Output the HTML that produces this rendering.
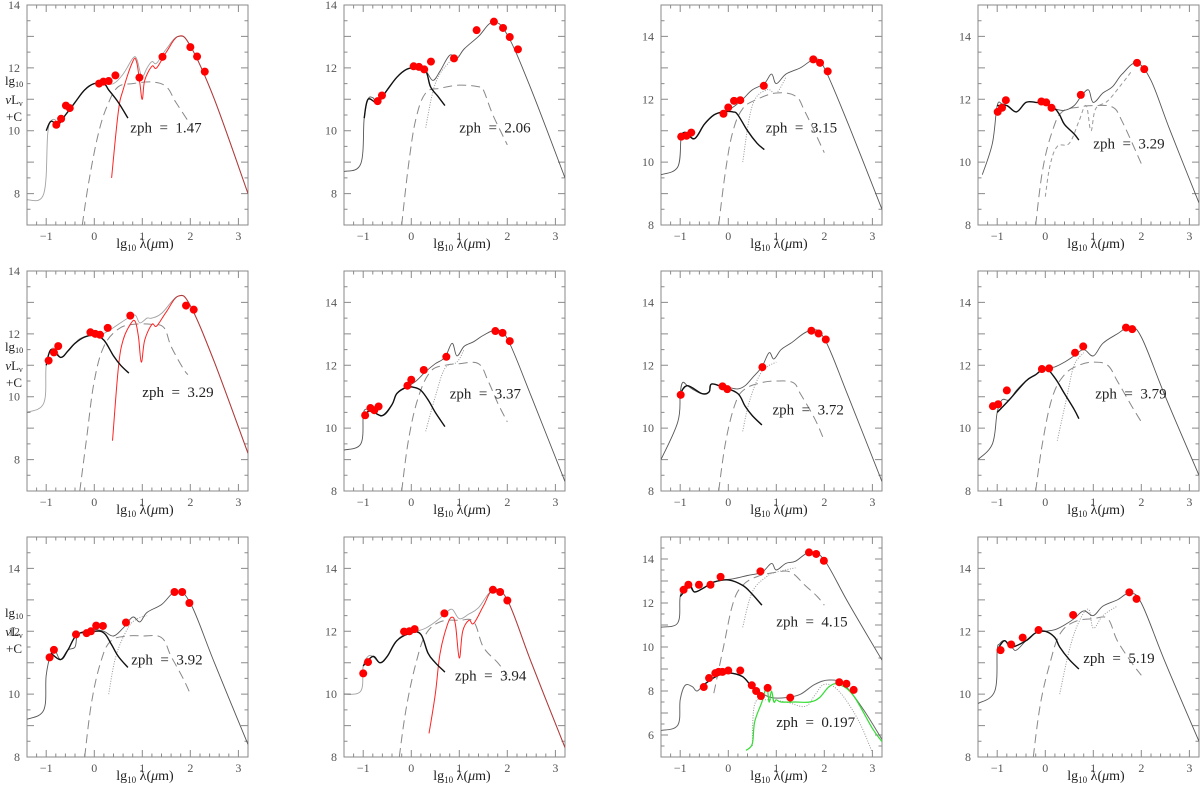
<!DOCTYPE html>
<html><head><meta charset="utf-8">
<style>
html,body{margin:0;padding:0;background:#fff;}
svg{display:block;}
text{font-family:"Liberation Serif",serif;}
.pre{white-space:pre;}
</style></head>
<body>
<svg id="fig" width="1200" height="787" viewBox="0 0 1200 787" xmlns="http://www.w3.org/2000/svg"></svg>
<script>
// ===== data (data units: x = lg10 lambda(um), y = lg10 nuLnu + C) =====
const panelZph = ["1.47","2.06","3.15","3.29","3.29","3.37","3.72","3.79","3.92","3.94","4.15","5.19"];
const panelYmin = [7,7,8,8,7,8,8,8,8,8,5,8];
const panelYmax = [14,14,15,15,14,15,15,15,15,15,15,15];
const labelX = [0.75,1.0,0.78,1.0,1.0,0.8,0.92,1.04,0.77,0.91,1.0,0.79];
const labelY = [10.1,10.1,11.1,10.6,10.15,11.1,10.6,11.1,11.1,10.6,11.15,11.15];
const pointsData = [
 [[-0.79,10.19],[-0.69,10.38],[-0.59,10.8],[-0.51,10.72],[0.1,11.5],[0.19,11.56],[0.3,11.58],[0.44,11.76],[0.94,11.69],[1.42,12.35],[2.0,12.66],[2.14,12.36],[2.3,11.88]],
 [[-0.7,10.94],[-0.61,11.12],[0.05,12.05],[0.16,12.03],[0.27,11.95],[0.41,12.2],[0.89,12.3],[1.36,13.2],[1.72,13.47],[1.91,13.27],[2.05,12.98],[2.22,12.59]],
 [[-0.98,10.81],[-0.87,10.84],[-0.77,10.94],[-0.1,11.54],[0.0,11.74],[0.12,11.95],[0.25,11.97],[0.74,12.43],[1.77,13.27],[1.91,13.16],[2.07,12.89]],
 [[-0.99,11.6],[-0.9,11.73],[-0.82,11.97],[-0.08,11.93],[0.02,11.9],[0.13,11.73],[0.74,12.14],[1.91,13.16],[2.06,12.96]],
 [[-0.95,11.15],[-0.84,11.41],[-0.75,11.61],[-0.08,12.05],[0.02,12.0],[0.12,11.97],[0.28,12.19],[0.75,12.58],[1.91,12.9],[2.07,12.77]],
 [[-0.96,10.41],[-0.85,10.64],[-0.77,10.57],[-0.68,10.69],[-0.08,11.35],[0.0,11.54],[0.26,11.85],[0.73,12.27],[1.75,13.09],[1.9,13.03],[2.05,12.77]],
 [[-0.99,11.06],[-0.12,11.33],[-0.02,11.24],[0.71,11.94],[1.73,13.1],[1.88,13.01],[2.03,12.82]],
 [[-1.09,10.7],[-0.98,10.76],[-0.8,11.2],[-0.07,11.88],[0.08,11.9],[0.62,12.4],[0.79,12.6],[1.68,13.2],[1.81,13.15]],
 [[-0.93,11.17],[-0.84,11.41],[-0.38,11.9],[-0.16,11.94],[-0.07,12.0],[0.04,12.18],[0.18,12.17],[0.66,12.28],[1.67,13.25],[1.83,13.25],[1.98,12.9]],
 [[-1.0,10.66],[-0.9,11.02],[-0.15,11.99],[-0.04,12.0],[0.07,12.07],[0.69,12.57],[1.7,13.32],[1.85,13.25],[2.0,12.98]],
 [[-0.93,12.6],[-0.83,12.83],[-0.61,12.83],[-0.37,12.83],[-0.16,13.19],[0.67,13.44],[1.68,14.3],[1.83,14.23],[1.99,13.92],
  [-0.51,8.18],[-0.4,8.59],[-0.27,8.81],[-0.2,8.87],[-0.12,8.87],[0.0,8.93],[0.25,8.93],[0.49,8.26],[0.58,8.0],[0.68,7.77],[0.82,8.14],[1.29,7.7],[2.31,8.4],[2.46,8.33],[2.61,8.05]],
 [[-0.93,11.4],[-0.71,11.58],[-0.47,11.8],[-0.14,12.04],[0.58,12.52],[1.75,13.24],[1.9,13.03]]
];
const totalData = [
 [[-1.4,7.8],[-1.05,8.0],[-0.97,9.9],[-0.9,10.3],[-0.82,10.35],[-0.75,10.2],[-0.6,10.5],[-0.4,10.9],[-0.2,11.3],[0,11.5],[0.2,11.5],[0.4,11.5],[0.6,11.8],[0.8,12.3],[0.88,12.3],[0.95,11.9],[1.0,11.7],[1.1,12.0],[1.2,12.2],[1.3,12.15],[1.5,12.6],[1.75,13.0],[2.0,12.7],[2.5,11.0],[3.2,8.0]],
 [[-1.4,8.7],[-1.05,8.95],[-0.98,10.4],[-0.9,11.0],[-0.8,11.05],[-0.7,10.9],[-0.5,11.3],[-0.3,11.7],[-0.1,11.95],[0.1,12.0],[0.3,11.9],[0.45,11.6],[0.6,11.9],[0.8,12.4],[0.95,12.3],[1.1,12.6],[1.4,13.0],[1.7,13.45],[2.0,13.05],[2.5,11.3],[3.2,8.5]],
 [[-1.4,9.6],[-1.05,9.85],[-0.98,10.8],[-0.9,10.95],[-0.8,10.85],[-0.7,10.75],[-0.5,11.2],[-0.3,11.5],[-0.1,11.6],[0.1,11.75],[0.3,12.0],[0.5,12.3],[0.75,12.5],[0.9,12.8],[1.0,12.5],[1.2,12.8],[1.5,13.0],[1.8,13.27],[2.0,13.0],[2.5,11.2],[3.2,8.5]],
 [[-1.31,9.6],[-1.1,10.6],[-1.0,11.8],[-0.9,11.85],[-0.8,11.8],[-0.6,11.6],[-0.4,11.9],[-0.2,11.9],[0,11.85],[0.2,11.7],[0.4,11.65],[0.6,11.8],[0.75,12.1],[0.9,12.3],[1.0,11.9],[1.2,12.2],[1.4,12.4],[1.6,12.8],[1.9,13.15],[2.2,12.6],[2.6,11.0],[3.2,8.7]],
 [[-1.4,9.5],[-1.05,9.8],[-1.0,11.0],[-0.9,11.5],[-0.8,11.5],[-0.7,11.25],[-0.55,11.45],[-0.4,11.7],[-0.3,11.85],[-0.1,11.95],[0.1,11.95],[0.3,12.1],[0.5,12.3],[0.7,12.5],[0.85,12.6],[0.95,12.35],[1.1,12.5],[1.2,12.5],[1.4,12.65],[1.75,13.2],[2.0,12.9],[2.5,11.1],[3.2,8.2]],
 [[-1.4,9.3],[-1.05,9.5],[-1.0,10.4],[-0.95,10.6],[-0.85,10.55],[-0.7,10.45],[-0.6,10.4],[-0.4,10.75],[-0.3,11.1],[-0.1,11.3],[0.1,11.5],[0.3,11.8],[0.5,12.05],[0.7,12.25],[0.85,12.7],[0.95,12.3],[1.1,12.6],[1.3,12.75],[1.5,12.95],[1.75,13.1],[2.0,12.85],[2.5,11.0],[3.2,8.3]],
 [[-1.4,9.0],[-1.05,10.2],[-1.0,11.1],[-0.95,11.45],[-0.85,11.35],[-0.7,11.2],[-0.55,11.1],[-0.4,11.15],[-0.35,11.4],[-0.2,11.35],[0,11.3],[0.2,11.25],[0.35,11.35],[0.5,11.6],[0.7,11.95],[0.85,12.4],[0.95,12.2],[1.1,12.5],[1.3,12.7],[1.7,13.1],[2.0,12.85],[2.5,11.0],[3.2,8.3]],
 [[-1.4,9.0],[-1.1,9.5],[-1.0,10.5],[-0.9,10.9],[-0.75,10.9],[-0.6,11.2],[-0.4,11.5],[-0.2,11.7],[0,11.9],[0.2,11.95],[0.4,12.1],[0.6,12.3],[0.8,12.5],[1.0,12.3],[1.2,12.7],[1.5,13.0],[1.75,13.2],[2.0,12.9],[2.5,11.0],[3.2,8.5]],
 [[-1.4,9.2],[-1.05,9.5],[-1.0,10.6],[-0.9,11.3],[-0.82,11.4],[-0.7,11.1],[-0.55,11.4],[-0.4,11.5],[-0.35,11.9],[-0.2,11.95],[0,12.05],[0.2,12.0],[0.4,11.85],[0.6,12.1],[0.8,12.45],[0.95,12.3],[1.1,12.6],[1.4,12.85],[1.7,13.25],[2.0,12.9],[2.5,11.0],[3.2,8.4]],
 [[-1.4,10.0],[-1.05,10.1],[-1.0,10.9],[-0.9,11.2],[-0.8,11.2],[-0.65,11.0],[-0.5,11.2],[-0.3,11.7],[-0.1,11.95],[0.1,12.0],[0.3,12.1],[0.5,12.3],[0.7,12.55],[0.85,12.7],[1.0,12.4],[1.2,12.55],[1.4,12.75],[1.7,13.3],[2.0,13.0],[2.5,11.0],[3.2,8.3]],
 [[-1.4,10.9],[-1.05,11.1],[-1.0,12.3],[-0.9,12.8],[-0.8,12.75],[-0.7,12.5],[-0.5,12.7],[-0.3,12.95],[-0.1,13.05],[0.1,13.1],[0.4,13.25],[0.7,13.4],[0.9,13.8],[1.0,13.5],[1.2,13.8],[1.4,13.9],[1.7,14.3],[2.0,13.95],[2.5,12.0],[3.2,9.4]],
 [[-1.4,9.7],[-1.05,10.1],[-1.0,11.4],[-0.95,11.6],[-0.85,11.7],[-0.7,11.5],[-0.6,11.4],[-0.4,11.7],[-0.2,11.95],[0,12.0],[0.2,12.05],[0.4,12.2],[0.6,12.4],[0.8,12.65],[1.0,12.5],[1.2,12.8],[1.5,13.0],[1.75,13.2],[2.0,12.9],[2.5,11.0],[3.2,8.5]]
];
const starData = [
 [[-1.0,10.0],[-0.9,10.3],[-0.75,10.2],[-0.6,10.5],[-0.4,10.9],[-0.2,11.3],[0,11.5],[0.2,11.5],[0.3,11.3],[0.5,10.9],[0.7,10.4]],
 [[-0.98,10.4],[-0.9,11.0],[-0.7,10.9],[-0.5,11.3],[-0.3,11.7],[-0.1,11.95],[0.1,12.0],[0.3,11.9],[0.4,11.4],[0.55,11.1],[0.7,10.8]],
 [[-0.98,10.8],[-0.9,10.95],[-0.7,10.75],[-0.5,11.2],[-0.3,11.5],[-0.1,11.6],[0.1,11.6],[0.2,11.5],[0.4,11.0],[0.6,10.6],[0.75,10.4]],
 [[-1.0,11.8],[-0.8,11.8],[-0.6,11.6],[-0.4,11.9],[-0.2,11.9],[0,11.85],[0.2,11.7],[0.3,11.5],[0.4,11.2],[0.6,10.9],[0.7,10.7]],
 [[-1.0,11.0],[-0.9,11.5],[-0.7,11.25],[-0.55,11.45],[-0.4,11.7],[-0.2,11.9],[0.0,11.95],[0.2,11.8],[0.4,11.3],[0.55,11.0],[0.72,10.75]],
 [[-1.0,10.4],[-0.85,10.55],[-0.6,10.4],[-0.4,10.75],[-0.3,11.1],[-0.1,11.3],[0.05,11.3],[0.2,11.2],[0.35,10.9],[0.5,10.5],[0.7,10.05]],
 [[-1.0,11.1],[-0.85,11.35],[-0.55,11.1],[-0.4,11.15],[-0.35,11.4],[-0.1,11.3],[0.2,11.1],[0.35,10.7],[0.5,10.4],[0.7,10.1]],
 [[-1.0,10.5],[-0.75,10.9],[-0.4,11.5],[-0.2,11.7],[0,11.9],[0.2,11.6],[0.4,11.1],[0.6,10.6],[0.7,10.3]],
 [[-0.9,11.3],[-0.7,11.1],[-0.55,11.4],[-0.35,11.9],[0,12.0],[0.2,11.95],[0.35,11.6],[0.5,11.2],[0.7,10.85]],
 [[-1.0,10.9],[-0.8,11.2],[-0.65,11.0],[-0.5,11.2],[-0.3,11.7],[0,11.95],[0.2,11.9],[0.35,11.3],[0.5,11.0],[0.7,10.7]],
 [[-1.0,12.3],[-0.8,12.75],[-0.7,12.5],[-0.5,12.7],[-0.3,12.95],[0,13.05],[0.3,12.8],[0.5,12.4],[0.7,11.9]],
 [[-1.0,11.4],[-0.85,11.7],[-0.7,11.5],[-0.4,11.7],[-0.2,11.95],[0,12.0],[0.2,11.8],[0.3,11.5],[0.5,11.1],[0.7,10.8]]
];
const torusData = [
 [[-0.25,7.0],[-0.1,8.5],[0.1,10.0],[0.3,10.9],[0.5,11.4],[0.8,11.5],[1.2,11.55],[1.5,11.4],[1.7,10.9],[2.0,10.2]],
 [[-0.2,7.0],[-0.05,9.0],[0.1,10.4],[0.3,11.2],[0.6,11.35],[1.0,11.45],[1.4,11.4],[1.5,11.3],[1.7,10.5],[2.0,9.55]],
 [[-0.2,8.0],[-0.05,9.8],[0.1,11.0],[0.3,11.7],[0.6,12.0],[1.0,12.2],[1.4,12.1],[1.6,11.6],[2.0,10.3]],
 [[-0.2,8.0],[-0.05,9.8],[0.15,11.0],[0.35,11.6],[0.7,11.75],[1.0,11.8],[1.4,11.75],[1.6,11.3],[2.0,9.95]],
 [[-0.3,7.0],[-0.15,8.8],[0.0,10.5],[0.2,11.6],[0.5,12.15],[0.8,12.3],[1.2,12.3],[1.45,12.2],[1.6,11.6],[1.85,10.9],[1.95,10.7]],
 [[-0.2,8.0],[-0.05,9.7],[0.15,11.0],[0.4,11.8],[0.7,12.0],[1.0,12.05],[1.4,12.05],[1.6,11.5],[1.8,10.8],[2.0,10.2]],
 [[-0.2,8.0],[-0.05,9.6],[0.15,10.8],[0.35,11.25],[0.7,11.45],[1.0,11.5],[1.35,11.45],[1.5,11.1],[1.8,10.3],[2.0,9.6]],
 [[-0.2,8.0],[-0.05,9.6],[0.15,11.0],[0.4,11.7],[0.7,12.0],[1.0,12.1],[1.3,12.0],[1.5,11.5],[1.8,10.7],[2.0,10.2]],
 [[-0.2,8.0],[-0.05,9.8],[0.15,11.1],[0.35,11.7],[0.7,11.85],[1.0,11.85],[1.4,11.8],[1.6,11.2],[1.85,10.5],[2.0,10.0]],
 [[-0.25,8.0],[-0.1,9.6],[0.1,11.0],[0.3,11.9],[0.6,12.3],[1.0,12.35],[1.3,12.3],[1.5,11.5],[1.8,11.0],[2.0,10.6]],
 [[-0.3,7.9],[-0.1,10.0],[0.1,12.0],[0.3,12.8],[0.6,13.2],[1.0,13.4],[1.3,13.4],[1.6,12.8],[1.85,12.3],[2.0,11.9]],
 [[-0.25,8.0],[-0.1,9.7],[0.1,11.0],[0.3,11.9],[0.6,12.3],[1.0,12.4],[1.3,12.4],[1.5,11.7],[1.8,11.0],[2.0,10.6]]
];
const sbData = [
 [],
 [[0.3,10.1],[0.5,11.5],[0.8,12.2],[1.0,12.4]],
 [[0.3,10.0],[0.5,11.8],[0.8,12.3],[1.0,12.2],[1.2,12.7]],
 [[0.0,8.9],[0.1,9.9],[0.25,10.5],[0.5,10.6],[0.7,11.3],[0.85,11.8],[0.95,11.0],[1.05,11.7],[1.3,11.95],[1.6,12.5],[1.8,12.9]],
 [],
 [[0.3,9.9],[0.5,11.0],[0.7,11.9],[0.95,12.1],[1.1,12.5]],
 [[0.3,9.9],[0.45,10.9],[0.7,11.8],[1.0,12.1]],
 [[0.25,9.6],[0.45,11.0],[0.6,12.0],[0.8,12.4]],
 [[0.3,10.0],[0.45,11.2],[0.7,12.1],[0.9,12.4],[1.1,12.5]],
 [],
 [[0.3,10.9],[0.5,12.5],[0.8,13.2],[1.0,13.4],[1.4,13.6]],
 [[0.3,10.0],[0.5,11.4],[0.7,12.3],[0.9,12.7],[1.0,12.1],[1.2,12.5],[1.5,12.8]]
];
const redData = [
 [[0.36,8.5],[0.5,10.6],[0.6,11.3],[0.8,12.2],[0.88,12.2],[0.95,11.5],[1.0,11.0],[1.05,11.6],[1.2,12.05],[1.3,12.0],[1.5,12.5],[1.75,13.0],[2.0,12.7],[2.5,11.0],[3.2,8.0]],
 [],[],[],
 [[0.38,8.6],[0.5,10.9],[0.6,11.8],[0.75,12.3],[0.85,12.4],[0.92,11.9],[0.98,11.1],[1.05,11.8],[1.2,12.3],[1.3,12.25],[1.5,12.7],[1.75,13.2],[2.0,12.9],[2.5,11.1],[3.2,8.2]],
 [],[],[],[],
 [[0.37,8.75],[0.5,10.0],[0.6,11.3],[0.75,12.2],[0.85,12.45],[0.92,12.2],[1.0,11.15],[1.07,12.0],[1.2,12.35],[1.3,12.25],[1.5,12.8],[1.7,13.3],[2.0,13.0],[2.5,11.0],[3.2,8.3]],
 [],[]
];
// second (low-z) source in panel 11
const lowTotal = [[-1.4,6.2],[-1.05,6.45],[-1.0,7.6],[-0.9,8.25],[-0.75,8.2],[-0.65,8.0],[-0.5,8.3],[-0.3,8.6],[-0.1,8.8],[0.1,8.8],[0.3,8.65],[0.5,8.2],[0.7,7.9],[0.9,7.7],[1.2,7.7],[1.5,7.85],[1.8,8.3],[2.1,8.5],[2.4,8.3],[2.8,7.2],[3.2,5.8]];
const lowStar = [[-0.5,8.3],[-0.3,8.6],[-0.1,8.8],[0.1,8.8],[0.3,8.65],[0.45,8.3]];
const lowSb = [[0.5,5.5],[0.55,7.4],[0.8,7.6],[1.2,7.5],[1.6,7.3],[1.8,7.8],[2.0,8.3],[2.3,8.0],[2.7,6.7],[3.0,5.2]];
const lowGreen = [[0.37,5.3],[0.5,5.6],[0.55,6.6],[0.7,7.5],[0.8,8.2],[0.85,7.5],[0.9,8.0],[0.95,7.5],[1.0,7.6],[1.1,7.5],[1.4,7.5],[1.7,7.5],[1.9,7.7],[2.1,8.2],[2.3,8.3],[2.6,7.8],[3.0,6.3],[3.2,5.7]];
const xTicks = [-1,0,1,2,3];

// ===== rendering =====
const NS = "http://www.w3.org/2000/svg";
const svg = document.getElementById('fig');
const colLeft = [27,344,661,978], rowTop = [5,271,537];
const W = 221, H = 220, XMIN = -1.4, XMAX = 3.2;
function mk(tag, attrs, parent){ const e=document.createElementNS(NS,tag); for(const k in attrs) e.setAttribute(k,attrs[k]); (parent||svg).appendChild(e); return e; }
function smoothPath(P){
  if (P.length<3) return 'M'+P.map(p=>p[0].toFixed(1)+','+p[1].toFixed(1)).join('L');
  let d='M'+P[0][0].toFixed(1)+','+P[0][1].toFixed(1);
  for (let k=0;k<P.length-1;k++){
    const p0=P[k-1]||P[k], p1=P[k], p2=P[k+1], p3=P[k+2]||P[k+1];
    const t=0.18;
    const c1=[p1[0]+(p2[0]-p0[0])*t, p1[1]+(p2[1]-p0[1])*t];
    const c2=[p2[0]-(p3[0]-p1[0])*t, p2[1]-(p3[1]-p1[1])*t];
    d+=`C${c1[0].toFixed(1)},${c1[1].toFixed(1)} ${c2[0].toFixed(1)},${c2[1].toFixed(1)} ${p2[0].toFixed(1)},${p2[1].toFixed(1)}`;
  }
  return d;
}

for (let i=0;i<12;i++){
  const L = colLeft[i%4], T = rowTop[Math.floor(i/4)];
  const y0 = panelYmin[i], y1 = panelYmax[i];
  const sx = v => L + (v-XMIN)/(XMAX-XMIN)*W;
  const sy = v => T + (y1-v)/(y1-y0)*H;
  const g = mk('g',{});
  
  
  const clipId='clip'+i;
  const cp = mk('clipPath',{id:clipId},g);
  mk('rect',{x:L,y:T,width:W,height:H},cp);
  const fr = mk('rect',{x:L,y:T,width:W,height:H,fill:'none',stroke:'#8a8a8a','stroke-width':1},g);
  
  
  let td='';
  for (let k=-14;k<=32;k+=2){ const v=k/10; const X=sx(v); if(X<L+0.5||X>L+W-0.5) continue; const len = Math.abs(v-Math.round(v))<1e-6?7:3.5; td+=`M${X.toFixed(1)},${T+H}v${-len}M${X.toFixed(1)},${T}v${len}`; }
  for (let v=Math.ceil(y0*2)/2; v<=y1; v+=0.5){ const Y=sy(v); if(Y<T+0.5||Y>T+H-0.5) continue; const len = Math.abs(v-Math.round(v))<1e-6?7:3.5; td+=`M${L},${Y.toFixed(1)}h${len}M${L+W},${Y.toFixed(1)}h${-len}`; }
  const tk = mk('path',{d:td,stroke:'#8a8a8a','stroke-width':1,fill:'none'},g);
  
  
  xTicks.forEach(v=>{ const t=mk('text',{x:sx(v),y:T+H+15,'font-size':12,fill:'#555','text-anchor':'middle'},g); t.textContent = v<0?'\u2212'+(-v):String(v);
    
     });
  for (let v=Math.ceil(y0/2)*2; v<=y1; v+=2){ const t=mk('text',{x:L-7,y:sy(v)+4,'font-size':12,fill:'#555','text-anchor':'end'},g); t.textContent=String(v);
    
     }
  const xl = mk('text',{x:L+118,y:T+H+23,'font-size':14,fill:'#222','text-anchor':'middle'},g);
  xl.innerHTML = 'lg<tspan font-size="9" dy="3">10</tspan><tspan dy="-3"> λ(</tspan><tspan font-style="italic">μ</tspan>m)';
  
  
  if (i%4===0){
    const yl = mk('text',{x:14,y:T+80,'font-size':13,fill:'#222','text-anchor':'middle'},g);
    yl.innerHTML = '<tspan x="14">lg<tspan font-size="8" dy="2">10</tspan></tspan><tspan x="14" dy="17"><tspan font-style="italic">ν</tspan>L<tspan font-size="8" dy="2">ν</tspan></tspan><tspan x="14" dy="15">+C</tspan>';
    
    
  }
  const inner = mk('g',{'clip-path':`url(#${clipId})`},g);
  const line = (arr, st, name) => { if(!arr.length) return; const p = mk('path',Object.assign({d:smoothPath(arr.map(q=>[sx(q[0]),sy(q[1])])),fill:'none','stroke-linejoin':'round'},st),inner);
    
     };
  line(torusData[i],{stroke:'#888','stroke-width':1,'stroke-dasharray':'9,5'},'torus-model-line');
  line(sbData[i],{stroke:'#999','stroke-width':1,'stroke-dasharray': i===3?'4,3':'1,1.5'},'starburst-model-line');
  line(redData[i],{stroke:'#f22','stroke-width':1},'alt-starburst-line');
  line(totalData[i],{stroke:'#555','stroke-width':0.9,opacity: redData[i].length?0.55:1},'total-model-line');
  line(starData[i],{stroke:'#111','stroke-width':1.4},'stellar-model-line');
  if (i===10){
    line(lowSb,{stroke:'#999','stroke-width':1,'stroke-dasharray':'1,1.5'},'low-z-starburst-line');
    line(lowTotal,{stroke:'#666','stroke-width':1},'low-z-total-line');
    line(lowStar,{stroke:'#111','stroke-width':1.4},'low-z-stellar-line');
    line(lowGreen,{stroke:'#3d3','stroke-width':1.2},'low-z-green-model-line');
    const t2 = mk('text',{x:sx(1.0),y:sy(6.6)+5,'font-size':15,fill:'#222','class':'pre'},g);
    t2.textContent='zph  =  0.197';
    
    
  }
  pointsData[i].forEach(q=>{ const c=mk('circle',{cx:sx(q[0]),cy:sy(q[1]),r:4,fill:'#f00'},inner);
    
     });
  const zt = mk('text',{x:sx(labelX[i]),y:sy(labelY[i])+5,'font-size':15,fill:'#222','class':'pre'},g);
  zt.textContent = 'zph  =  '+panelZph[i];
  
  
}
</script>
</body></html>
